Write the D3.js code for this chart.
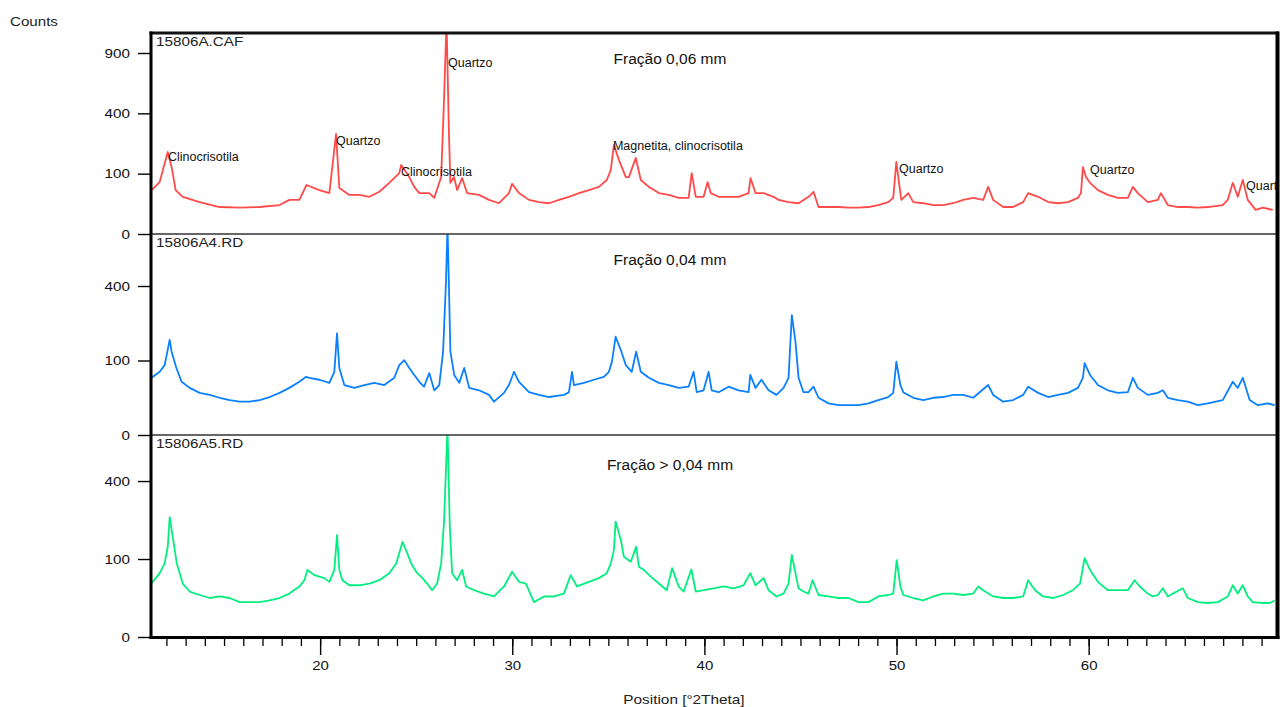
<!DOCTYPE html>
<html>
<head>
<meta charset="utf-8">
<script src="https://cdn.jsdelivr.net/npm/d3@7"></script>
<style>
body { margin: 0; background: #fff; }
svg text { font-family: "Liberation Sans", Arial, sans-serif; }
</style>
</head>
<body>
<svg id="chart" width="1287" height="707"></svg>
<script>
// 15806A.CAF - fração 0,06 mm
var redPos = [
    11.23, 11.65, 12.07, 12.28, 12.48, 12.85, 13.73, 14.77, 15.81, 16.85,
    17.89, 18.40, 18.92, 19.29, 19.96, 20.48, 20.83, 21.00, 21.52, 22.04,
    22.56, 23.08, 23.60, 24.12, 24.22, 24.64, 24.90, 25.16, 25.68, 25.94,
    26.30, 26.45, 26.58, 26.70, 26.78, 26.97, 27.13, 27.39, 27.65, 28.27,
    28.79, 29.31, 29.83, 29.99, 30.35, 30.87, 31.39, 31.91, 32.43, 32.95,
    33.47, 33.99, 34.51, 34.92, 35.13, 35.29, 35.55, 35.91, 36.07, 36.43,
    36.69, 37.11, 37.63, 38.15, 38.66, 39.18, 39.34, 39.55, 39.96, 40.17,
    40.33, 40.74, 41.26, 41.78, 42.30, 42.40, 42.66, 43.08, 43.60, 43.86,
    44.38, 44.90, 45.42, 45.68, 45.94, 46.46, 46.98, 47.50, 48.02, 48.54,
    49.05, 49.57, 49.83, 49.99, 50.09, 50.25, 50.61, 50.87, 51.39, 51.91,
    52.43, 52.95, 53.47, 53.99, 54.51, 54.77, 55.03, 55.55, 56.07, 56.59,
    56.85, 57.37, 57.89, 58.41, 58.93, 59.44, 59.60, 59.70, 59.86, 60.07,
    60.48, 61.00, 61.52, 62.04, 62.30, 62.56, 63.08, 63.60, 63.76, 64.12,
    64.64, 65.16, 65.68, 66.20, 66.98, 67.24, 67.50, 67.76, 68.02, 68.28,
    68.69, 69.06, 69.58
];
var redCounts = [
    53, 74, 185, 120, 53, 38, 28, 20, 19, 20,
    23, 32, 32, 66, 53, 46, 275, 58, 42, 42,
    38, 49, 72, 102, 131, 89, 61, 46, 46, 36,
    89, 500, 1250, 300, 72, 89, 53, 86, 46, 42,
    32, 26, 46, 69, 46, 32, 28, 26, 32, 38,
    46, 53, 61, 80, 113, 218, 151, 89, 89, 159,
    80, 61, 46, 42, 36, 36, 102, 38, 38, 74,
    46, 38, 38, 38, 46, 86, 46, 46, 38, 32,
    28, 26, 38, 49, 20, 20, 20, 19, 19, 20,
    23, 28, 36, 143, 89, 32, 46, 28, 26, 23,
    23, 26, 32, 36, 32, 61, 32, 20, 20, 28,
    46, 38, 28, 26, 28, 36, 46, 123, 89, 72,
    53, 42, 36, 36, 61, 46, 28, 32, 46, 23,
    20, 20, 19, 20, 23, 32, 72, 38, 80, 32,
    16, 19, 16
];

// 15806A4.RD - fração 0,04 mm
var bluePos = [
    11.23, 11.65, 11.91, 12.17, 12.27, 12.52, 12.79, 13.21, 13.73, 14.25,
    14.77, 15.29, 15.81, 16.33, 16.85, 17.37, 17.89, 18.40, 18.92, 19.27,
    19.44, 19.96, 20.48, 20.74, 20.88, 21.00, 21.26, 21.78, 22.30, 22.82,
    23.34, 23.86, 24.12, 24.38, 24.64, 24.90, 25.16, 25.41, 25.68, 25.94,
    26.20, 26.40, 26.55, 26.63, 26.70, 26.78, 26.98, 27.24, 27.50, 27.76,
    28.27, 28.79, 29.05, 29.57, 29.83, 30.09, 30.35, 30.87, 31.39, 31.91,
    32.69, 32.95, 33.11, 33.21, 33.73, 34.25, 34.77, 35.03, 35.19, 35.38,
    35.65, 35.91, 36.22, 36.45, 36.69, 37.11, 37.63, 38.15, 38.66, 39.18,
    39.44, 39.60, 39.96, 40.22, 40.38, 40.74, 41.26, 41.78, 42.30, 42.39,
    42.66, 42.97, 43.34, 43.75, 44.12, 44.38, 44.55, 44.74, 44.90, 45.16,
    45.42, 45.68, 45.94, 46.46, 46.98, 47.50, 48.02, 48.54, 49.05, 49.57,
    49.83, 49.99, 50.20, 50.35, 50.87, 51.39, 51.91, 52.43, 52.95, 53.47,
    53.99, 54.77, 55.03, 55.55, 56.07, 56.59, 56.85, 57.37, 57.89, 58.41,
    58.93, 59.44, 59.70, 59.79, 60.07, 60.48, 61.00, 61.52, 62.04, 62.30,
    62.56, 63.08, 63.60, 63.86, 64.12, 64.64, 65.16, 65.68, 66.20, 66.98,
    67.50, 67.76, 68.02, 68.38, 68.80, 69.32, 69.68
];
var blueCounts = [
    59, 72, 88, 163, 125, 81, 51, 40, 32, 29,
    25, 22, 20, 20, 22, 26, 32, 40, 51, 61,
    59, 55, 49, 72, 186, 81, 45, 40, 45, 49,
    45, 59, 88, 101, 81, 65, 51, 42, 69, 36,
    45, 125, 420, 780, 420, 125, 65, 49, 81, 40,
    36, 29, 20, 32, 45, 72, 51, 33, 29, 26,
    29, 33, 72, 45, 49, 55, 61, 72, 97, 174,
    130, 88, 72, 125, 72, 59, 49, 45, 40, 42,
    72, 33, 36, 72, 36, 33, 42, 36, 33, 65,
    40, 55, 36, 29, 40, 59, 259, 157, 59, 33,
    33, 42, 25, 18, 16, 16, 16, 18, 22, 26,
    32, 97, 45, 33, 25, 22, 25, 26, 29, 29,
    25, 45, 29, 20, 22, 29, 42, 32, 26, 29,
    32, 40, 59, 93, 65, 45, 36, 32, 33, 59,
    40, 29, 32, 36, 25, 22, 20, 16, 18, 22,
    51, 40, 59, 22, 16, 18, 16
];

// 15806A5.RD - fração > 0,04 mm
var greenPos = [
    11.22, 11.65, 11.91, 12.07, 12.17, 12.33, 12.54, 12.69, 12.85, 13.21,
    13.73, 14.25, 14.77, 15.29, 15.81, 16.33, 16.85, 17.37, 17.89, 18.40,
    18.92, 19.18, 19.34, 19.70, 20.22, 20.48, 20.74, 20.88, 21.00, 21.16,
    21.52, 22.04, 22.56, 23.08, 23.60, 23.96, 24.29, 24.54, 24.74, 25.05,
    25.26, 25.57, 25.83, 26.09, 26.30, 26.45, 26.63, 26.75, 26.87, 27.13,
    27.39, 27.60, 28.02, 28.53, 29.05, 29.57, 29.99, 30.35, 30.71, 31.13,
    31.65, 32.17, 32.69, 33.04, 33.37, 33.99, 34.51, 34.92, 35.13, 35.29,
    35.38, 35.65, 35.81, 36.17, 36.45, 36.59, 36.85, 37.21, 37.63, 38.04,
    38.32, 38.66, 38.92, 39.32, 39.55, 39.96, 40.48, 41.00, 41.52, 42.04,
    42.39, 42.66, 43.08, 43.34, 43.75, 44.12, 44.38, 44.55, 44.74, 44.90,
    45.16, 45.42, 45.63, 45.94, 46.46, 46.98, 47.50, 48.02, 48.54, 49.05,
    49.57, 49.83, 50.01, 50.20, 50.35, 50.87, 51.39, 51.91, 52.43, 52.95,
    53.47, 53.99, 54.25, 54.51, 55.03, 55.55, 56.07, 56.59, 56.85, 57.21,
    57.63, 58.15, 58.67, 59.18, 59.55, 59.79, 60.07, 60.48, 61.00, 61.52,
    62.04, 62.39, 62.66, 63.08, 63.34, 63.60, 63.86, 64.12, 64.38, 64.90,
    65.16, 65.68, 66.20, 66.72, 67.24, 67.50, 67.76, 68.02, 68.28, 68.54,
    69.06, 69.43, 69.68
];
var greenCounts = [
    47, 67, 89, 134, 236, 165, 89, 67, 47, 34,
    29, 25, 27, 25, 20, 20, 20, 22, 25, 31,
    42, 53, 74, 63, 57, 50, 74, 171, 74, 53,
    44, 44, 47, 53, 67, 89, 149, 115, 89, 67,
    60, 47, 36, 47, 89, 220, 720, 200, 67, 53,
    74, 42, 36, 31, 27, 42, 70, 50, 47, 20,
    27, 27, 31, 63, 42, 50, 57, 67, 89, 124,
    219, 155, 106, 93, 134, 81, 74, 60, 47, 36,
    78, 42, 34, 75, 34, 36, 39, 42, 39, 44,
    67, 44, 57, 36, 27, 31, 47, 111, 67, 39,
    34, 31, 53, 29, 27, 25, 25, 20, 20, 27,
    29, 31, 97, 42, 29, 25, 22, 27, 31, 31,
    29, 31, 42, 36, 27, 25, 25, 27, 53, 36,
    27, 25, 29, 36, 47, 102, 74, 50, 36, 36,
    36, 53, 42, 31, 27, 29, 39, 27, 31, 39,
    25, 20, 19, 20, 27, 44, 31, 44, 27, 20,
    19, 19, 22
];

var panelNames = ['15806A.CAF', '15806A4.RD', '15806A5.RD'];
var panelTitles = ['Fração 0,06 mm', 'Fração 0,04 mm', 'Fração > 0,04 mm'];
var panelMax = [1110, 728, 671];
var panelTicks = [[0, 100, 400, 900], [0, 100, 400], [0, 100, 400]];
var xTicks = [20, 30, 40, 50, 60];

// phase labels on the top pattern
var peakPos = [12.08, 20.83, 26.66, 24.21, 35.24, 50.13, 60.07, 68.19];
var peakLabels = ['Clinocrisotila', 'Quartzo', 'Quartzo', 'Clinocrisotila',
    'Magnetita, clinocrisotila', 'Quartzo', 'Quartzo', 'Quartzo'];
var peakLabelCounts = [147, 218, 767, 93, 194, 102, 99, 53];

var series = [
    {pos: redPos, counts: redCounts, color: '#ff4a4a'},
    {pos: bluePos, counts: blueCounts, color: '#0a80ff'},
    {pos: greenPos, counts: greenCounts, color: '#00ef7f'}
];

var svg = d3.select('#chart');
var left = 152, right = 1276;
var panelTop = [33, 234, 435];
var panelBottom = [234, 435, 637];
var titleDy = [31, 31, 35];

var x = d3.scaleLinear().domain([11.25, 69.75]).range([left, right]);

// the original texts look horizontally stretched
var stretch = function(sel, k) {
    sel.each(function() {
        var len = this.getComputedTextLength();
        d3.select(this)
            .attr('textLength', len * k)
            .attr('lengthAdjust', 'spacingAndGlyphs');
    });
};

series.forEach(function(s, i) {
    var y = d3.scaleSqrt()
        .domain([0, panelMax[i]])
        .range([panelBottom[i], panelTop[i]]);

    var clipId = 'clip' + i;
    svg.append('clipPath').attr('id', clipId)
        .append('rect')
        .attr('x', left)
        .attr('y', panelTop[i])
        .attr('width', right - left)
        .attr('height', panelBottom[i] - panelTop[i]);

    var line = d3.line()
        .x(function(d) { return x(s.pos[d]); })
        .y(function(d) { return y(s.counts[d]); });

    svg.append('path')
        .datum(d3.range(s.pos.length))
        .attr('clip-path', 'url(#' + clipId + ')')
        .attr('d', line)
        .attr('fill', 'none')
        .attr('stroke', s.color)
        .attr('stroke-width', 1.8)
        .attr('stroke-linejoin', 'round');

    var ax = svg.append('g')
        .attr('transform', 'translate(151,0)')
        .call(d3.axisLeft(y).tickValues(panelTicks[i]).tickSize(13).tickPadding(8));
    ax.select('.domain').remove();
    ax.attr('font-family', '"Liberation Sans", Arial, sans-serif');
    ax.selectAll('line').attr('stroke', '#000').attr('stroke-width', 1.4);
    ax.selectAll('text').attr('font-size', 12.5).attr('fill', '#111');
    stretch(ax.selectAll('text'), 1.22);

    var name = svg.append('text')
        .attr('x', 156)
        .attr('y', panelTop[i] + 13)
        .attr('font-size', 12.5)
        .attr('fill', '#222')
        .text(panelNames[i]);
    stretch(name, 1.22);

    svg.append('text')
        .attr('x', 670)
        .attr('y', panelTop[i] + titleDy[i])
        .attr('text-anchor', 'middle')
        .attr('font-size', 15.5)
        .attr('fill', '#111')
        .text(panelTitles[i]);

    if (i === 0) {
        svg.append('g')
            .attr('clip-path', 'url(#' + clipId + ')')
            .selectAll('text')
            .data(peakLabels)
            .enter().append('text')
            .attr('x', function(d, j) { return x(peakPos[j]); })
            .attr('y', function(d, j) { return y(peakLabelCounts[j]); })
            .attr('font-size', 12.5)
            .attr('fill', '#111')
            .text(function(d) { return d; });
    }
});

// x axis, minor ticks every degree
var minor = svg.append('g')
    .attr('transform', 'translate(0,639)')
    .call(d3.axisBottom(x).tickValues(d3.range(12, 70)).tickSize(7).tickFormat(''));
minor.select('.domain').remove();
minor.selectAll('line').attr('stroke', '#000').attr('stroke-width', 1.3);

var major = svg.append('g')
    .attr('transform', 'translate(0,639)')
    .call(d3.axisBottom(x).tickValues(xTicks).tickSize(16).tickPadding(6));
major.select('.domain').remove();
major.attr('font-family', '"Liberation Sans", Arial, sans-serif');
major.selectAll('line').attr('stroke', '#000').attr('stroke-width', 1.4);
major.selectAll('text').attr('font-size', 12.5).attr('fill', '#111');
stretch(major.selectAll('text'), 1.2);

// frame
svg.append('line').attr('x1', 151).attr('x2', 1276).attr('y1', 234).attr('y2', 234)
    .attr('stroke', '#333').attr('stroke-width', 1.5);
svg.append('line').attr('x1', 151).attr('x2', 1276).attr('y1', 435).attr('y2', 435)
    .attr('stroke', '#333').attr('stroke-width', 1.5);
svg.append('line').attr('x1', 149.5).attr('x2', 1279).attr('y1', 33).attr('y2', 33)
    .attr('stroke', '#111').attr('stroke-width', 3);
svg.append('line').attr('x1', 149.5).attr('x2', 1279.5).attr('y1', 637.5).attr('y2', 637.5)
    .attr('stroke', '#000').attr('stroke-width', 3);
svg.append('line').attr('x1', 151).attr('x2', 151).attr('y1', 31.5).attr('y2', 639)
    .attr('stroke', '#000').attr('stroke-width', 3);
svg.append('line').attr('x1', 1277.5).attr('x2', 1277.5).attr('y1', 31.5).attr('y2', 639)
    .attr('stroke', '#000').attr('stroke-width', 4);

var counts = svg.append('text')
    .attr('x', 10)
    .attr('y', 26)
    .attr('font-size', 13.5)
    .attr('fill', '#222')
    .text('Counts');
stretch(counts, 1.12);

var title = svg.append('text')
    .attr('x', 684)
    .attr('y', 704)
    .attr('text-anchor', 'middle')
    .attr('font-size', 13)
    .attr('fill', '#222')
    .text('Position [°2Theta]');
stretch(title, 1.18);
</script>
</body>
</html>
